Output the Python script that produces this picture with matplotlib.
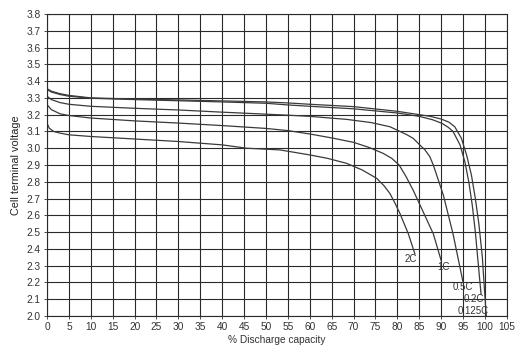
import matplotlib
matplotlib.use("Agg")
import matplotlib.pyplot as plt

plt.rcParams['font.family'] = ['Liberation Sans', 'DejaVu Sans']

# discharge curves: (% capacity, cell voltage)
c0125_x = [0, 1, 3, 5, 10, 20, 30, 40, 50, 55, 60, 70, 80, 85, 87.5, 90, 91.8, 93.1, 94.6, 95.8, 96.9, 97.8, 98.6, 99.4, 99.9, 100.3]
c0125_y = [3.355, 3.34, 3.325, 3.315, 3.30, 3.293, 3.288, 3.282, 3.276, 3.27, 3.262, 3.248, 3.22, 3.20, 3.19, 3.174, 3.155, 3.128, 3.06, 2.96, 2.84, 2.70, 2.55, 2.35, 2.15, 2.0]

c02_x = [0, 1, 3, 5, 10, 20, 30, 40, 50, 55, 60, 70, 80, 85, 88, 90.2, 91.6, 92.7, 94.3, 95.4, 96.3, 97.1, 97.8, 98.5, 99.1]
c02_y = [3.35, 3.335, 3.32, 3.31, 3.298, 3.29, 3.283, 3.276, 3.268, 3.258, 3.25, 3.235, 3.21, 3.19, 3.17, 3.148, 3.125, 3.10, 3.02, 2.92, 2.80, 2.66, 2.50, 2.30, 2.13]

c05_x = [0, 1, 3, 5, 10, 20, 30, 40, 50, 55, 60, 68.4, 74, 78.3, 80.6, 82.2, 83.6, 85.1, 86.3, 87.4, 88.2, 90.5, 92.7, 95]
c05_y = [3.31, 3.29, 3.272, 3.262, 3.25, 3.238, 3.228, 3.215, 3.203, 3.197, 3.19, 3.172, 3.153, 3.128, 3.10, 3.08, 3.059, 3.02, 2.99, 2.95, 2.90, 2.72, 2.49, 2.2]

c1_x = [0, 1, 3, 5, 10, 20, 30, 40, 50, 55, 60, 65.3, 70, 73.5, 76.7, 78.7, 80.4, 82, 83.6, 85.9, 88.2, 90]
c1_y = [3.26, 3.23, 3.205, 3.195, 3.18, 3.163, 3.15, 3.135, 3.118, 3.105, 3.085, 3.06, 3.035, 3.005, 2.97, 2.94, 2.90, 2.83, 2.75, 2.62, 2.49, 2.33]

c2_x = [0, 0.5, 1.5, 3, 5, 10, 20, 30, 40, 45.6, 53.2, 60, 64, 68.4, 72, 75.3, 77, 78.3, 79.5, 80.6, 82.5, 84]
c2_y = [3.15, 3.12, 3.10, 3.09, 3.08, 3.07, 3.055, 3.04, 3.02, 3.0, 2.99, 2.96, 2.94, 2.91, 2.87, 2.82, 2.775, 2.73, 2.67, 2.61, 2.49, 2.37]

labels = ['2C', '1C', '0.5C', '0.2C', '0.125C']
label_x = [83.0, 90.5, 94.9, 97.5, 97.2]
label_y = [2.34, 2.29, 2.17, 2.10, 2.03]

fig = plt.figure(figsize=(5.25, 3.46), dpi=100)
ax = fig.add_axes([0.0895, 0.0867, 0.876, 0.8728])

for xs, ys in [(c0125_x, c0125_y), (c02_x, c02_y), (c05_x, c05_y), (c1_x, c1_y), (c2_x, c2_y)]:
    ax.plot(xs, ys, color='#3a3a3a', linewidth=0.9)

for t, lx, ly in zip(labels, label_x, label_y):
    ax.text(lx, ly, t, fontsize=7, color='#333333', ha='center', va='center')

ax.set_xlim(0, 105)
ax.set_ylim(2.0, 3.8)
ax.set_xticks(range(0, 106, 5))
ax.set_yticks([2.0 + 0.1 * i for i in range(19)])
ax.set_yticklabels([f"{2.0 + 0.1 * i:.1f}" for i in range(19)])
ax.grid(True, color='#2a2a2a', linewidth=0.8)
ax.set_axisbelow(True)
ax.tick_params(labelsize=7.3, colors='#333333', length=2.5, width=0.6, pad=2)
for s in ax.spines.values():
    s.set_color('#2a2a2a')
    s.set_linewidth(0.8)

ax.set_xlabel('% Discharge capacity', fontsize=7.3, color='#333333', labelpad=2)
ax.set_ylabel('Cell terminal voltage', fontsize=7.8, color='#222222', labelpad=4)

fig.savefig('out.png', dpi=100)
